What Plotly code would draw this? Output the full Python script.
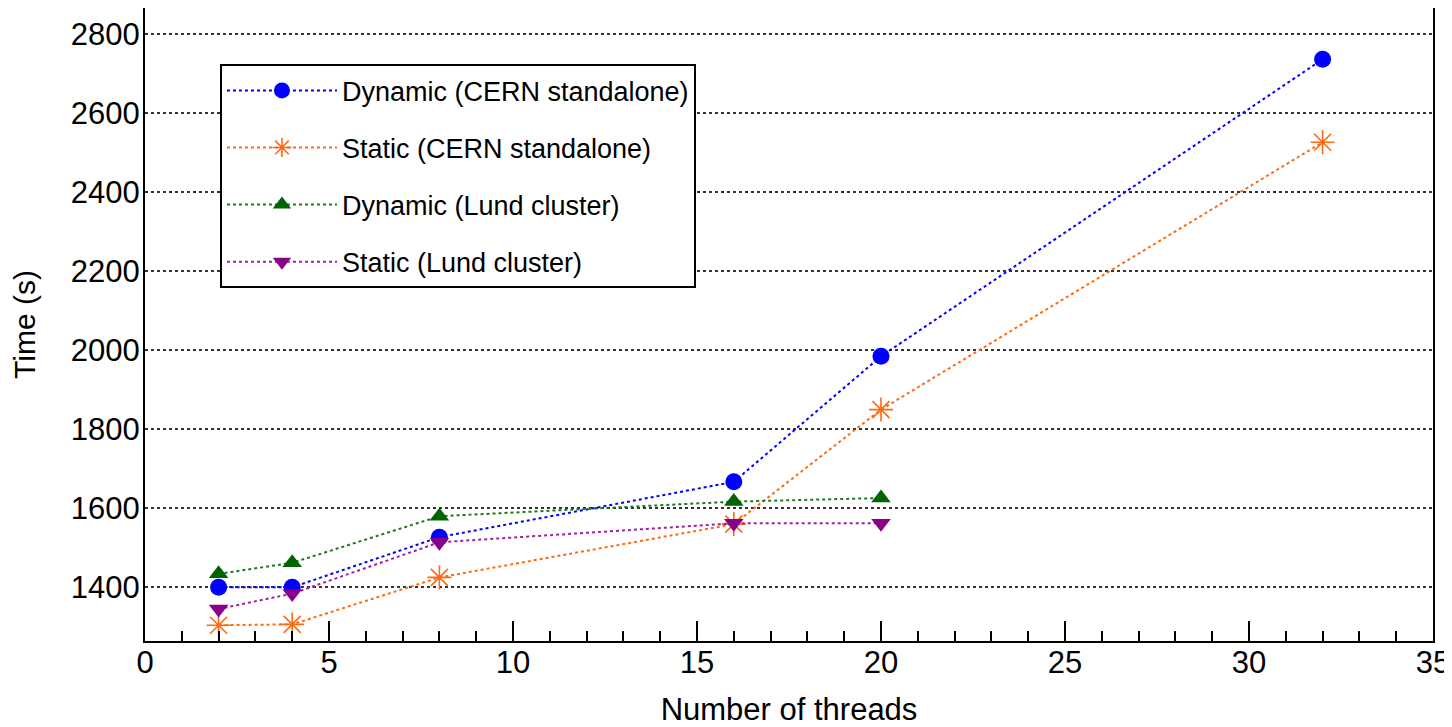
import plotly.graph_objects as go

threads_cern = [2, 4, 8, 16, 20, 32]
threads_lund = [2, 4, 8, 16, 20]
dyn_cern = [1400, 1400, 1527, 1667, 1985, 2737]
stat_cern = [1304, 1306, 1425, 1560, 1850, 2527]
dyn_lund = [1434, 1462, 1580, 1617, 1626]
stat_lund = [1345, 1384, 1514, 1562, 1562]

names = ["Dynamic (CERN standalone)", "Static (CERN standalone)",
         "Dynamic (Lund cluster)", "Static (Lund cluster)"]
y_ticks = [1400, 1600, 1800, 2000, 2200, 2400, 2600, 2800]
x_ticks = [0, 5, 10, 15, 20, 25, 30, 35]

FONT = "Liberation Sans, Arial, Helvetica, sans-serif"

series = [
    (threads_cern, dyn_cern, names[0], "#0000ff", "#0000ff", "circle", 17),
    (threads_cern, stat_cern, names[1], "#ff6a10", "#ff6a10", "asterisk-open", 20),
    (threads_lund, dyn_lund, names[2], "#1a7a1a", "#006400", "triangle-up", 17),
    (threads_lund, stat_lund, names[3], "#a020a0", "#8b008b", "triangle-down", 17),
]

fig = go.Figure()
for i, (x, y, name, lc, mc, sym, sz) in enumerate(series):
    fig.add_trace(go.Scatter(
        x=x, y=y, name=name, mode="lines+markers", legendgroup=f"g{i}",
        line=dict(color=lc, width=2, dash="dot"),
        marker=dict(symbol=sym, size=sz, color=mc,
                    line=dict(color=mc, width=1.6 if sym == "asterisk-open" else 0)),
    ))

# the page body adds an 8px offset; figure size and margins compensate for it
fig.update_layout(
    width=1444, height=719,
    margin=dict(l=137, r=19, t=0, b=86),
    paper_bgcolor="white", plot_bgcolor="white",
    font=dict(family=FONT, size=31, color="black"),
    showlegend=True,
    legend=dict(
        x=0.0582, y=0.911, xanchor="left", yanchor="top",
        bordercolor="black", borderwidth=2, bgcolor="white",
        font=dict(size=27, family=FONT), tracegroupgap=19,
        itemwidth=110,
    ),
)
fig.update_xaxes(
    range=[0, 35], tickvals=x_ticks, showgrid=False, zeroline=False,
    showline=True, mirror=True, linecolor="black", linewidth=2,
    ticks="inside", ticklen=20, tickwidth=2, tickcolor="black",
    minor=dict(ticks="inside", ticklen=10, tickwidth=2, tickcolor="black", dtick=1, showgrid=False),
    title=dict(text="Number of threads", font=dict(size=31), standoff=31),
    tickfont=dict(size=31), ticklabelstandoff=-7, automargin=False,
)
fig.update_yaxes(
    range=[1264, 2867], tickvals=y_ticks, zeroline=False,
    showline=True, mirror=True, linecolor="black", linewidth=2,
    ticks="", showgrid=True, gridcolor="#333333", gridwidth=1.5, griddash="dot",
    title=dict(text="Time (s)", font=dict(size=30), standoff=26),
    tickfont=dict(size=31), ticklabelstandoff=-3, automargin=False,
)
fig.write_html("out.html")
